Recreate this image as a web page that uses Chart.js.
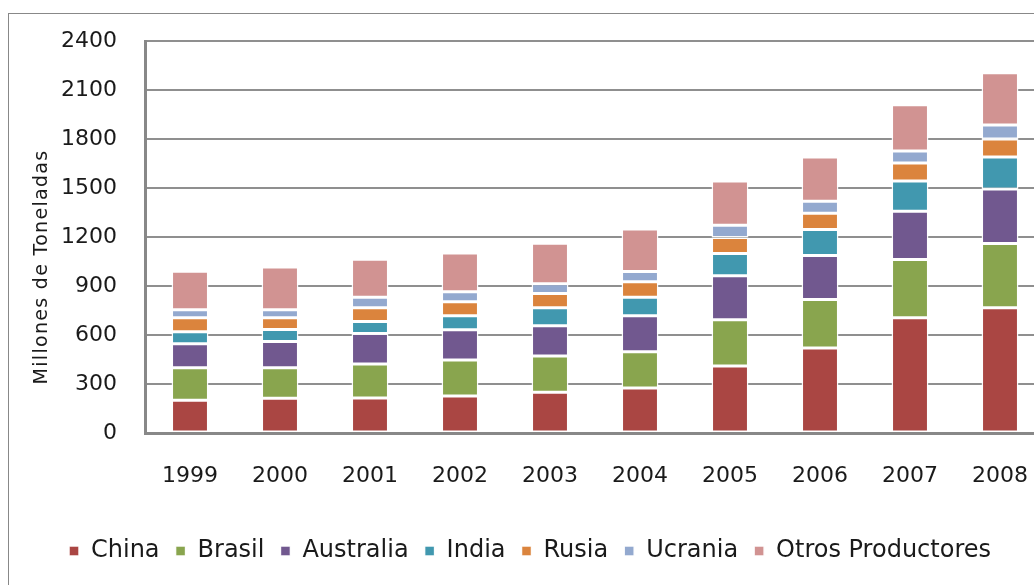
<!DOCTYPE html>
<html>
<head>
<meta charset="utf-8">
<script src="https://cdn.jsdelivr.net/npm/chart.js@4"></script>
<style>
  html, body { margin: 0; padding: 0; background: #fff; overflow: hidden; }
  #frame {
    position: absolute; left: 8px; top: 13px; width: 1100px; height: 600px;
    border: 1.5px solid #888;
  }
  #chart { position: absolute; left: 0; top: 0; }
</style>
</head>
<body>
<div id="frame"></div>
<canvas id="chart" width="1100" height="585"></canvas>
<script>
// years on the x axis
const years = ['1999', '2000', '2001', '2002', '2003', '2004', '2005', '2006', '2007', '2008'];

// millones de toneladas
const china     = [200, 213, 215, 226, 250, 275, 410, 521, 706, 767];
const brasil    = [200, 187, 208, 221, 222, 222, 284, 296, 357, 394];
const australia = [146, 160, 186, 185, 185, 221, 270, 270, 295, 333];
const india     = [74, 74, 74, 86, 110, 113, 136, 160, 185, 197];
const rusia     = [86, 72, 84, 86, 87, 96, 98, 99, 111, 110];
const ucrania   = [49, 49, 64, 62, 61, 62, 74, 74, 73, 86];
const otros     = [236, 262, 234, 236, 248, 260, 271, 271, 284, 320];

const seriesNames = ['China', 'Brasil', 'Australia', 'India', 'Rusia', 'Ucrania', 'Otros Productores'];
const seriesData = [china, brasil, australia, india, rusia, ucrania, otros];
const seriesColors = ['#AA4643', '#89A54E', '#71588F', '#4198AF', '#DB843D', '#93A9CF', '#D19392'];

const yTitle = 'Millones de Toneladas';
const font = 'DejaVu Sans';

// rotated y axis title, Excel puts it a bit lower than chart.js would
const yTitlePlugin = {
  id: 'yTitle',
  afterDraw(chart) {
    const ctx = chart.ctx;
    ctx.save();
    ctx.translate(42, 267);
    ctx.rotate(-Math.PI / 2);
    ctx.font = '19px "' + font + '"';
    ctx.letterSpacing = '1.3px';
    ctx.fillStyle = '#1a1a1a';
    ctx.textAlign = 'center';
    ctx.textBaseline = 'middle';
    ctx.fillText(yTitle, 0, 0);
    ctx.restore();
  }
};

new Chart(document.querySelector('#chart'), {
  type: 'bar',
  data: {
    labels: years,
    datasets: seriesNames.map((name, i) => ({
      label: name,
      data: seriesData[i],
      backgroundColor: seriesColors[i],
      borderColor: 'rgba(255,255,255,0.95)',
      borderWidth: 1.5,
      borderSkipped: false,
      barPercentage: 0.41,
      categoryPercentage: 1
    }))
  },
  options: {
    responsive: false,
    animation: false,
    devicePixelRatio: 1,
    layout: { padding: { left: 15, right: 55, top: 41, bottom: 12 } },
    plugins: {
      tooltip: { enabled: false },
      legend: {
        position: 'bottom',
        labels: {
          boxWidth: 10,
          boxHeight: 10,
          padding: 16,
          color: '#1a1a1a',
          font: { family: font, size: 24 }
        }
      }
    },
    scales: {
      x: {
        stacked: true,
        grid: { display: false, drawTicks: false },
        border: { display: true, color: '#888', width: 3 },
        ticks: { color: '#1a1a1a', padding: 30, font: { family: font, size: 22 } },
        afterFit(scale) { scale.height = 90; }
      },
      y: {
        stacked: true,
        min: 0,
        max: 2400,
        grid: { color: '#8f8f8f', lineWidth: 2, drawTicks: false },
        border: { display: true, color: '#888', width: 3 },
        ticks: {
          stepSize: 300,
          color: '#1a1a1a',
          padding: 28,
          font: { family: font, size: 22 },
          callback: v => String(v)
        },
        afterFit(scale) { scale.width = 130; }
      }
    }
  },
  plugins: [yTitlePlugin]
});
</script>
</body>
</html>
